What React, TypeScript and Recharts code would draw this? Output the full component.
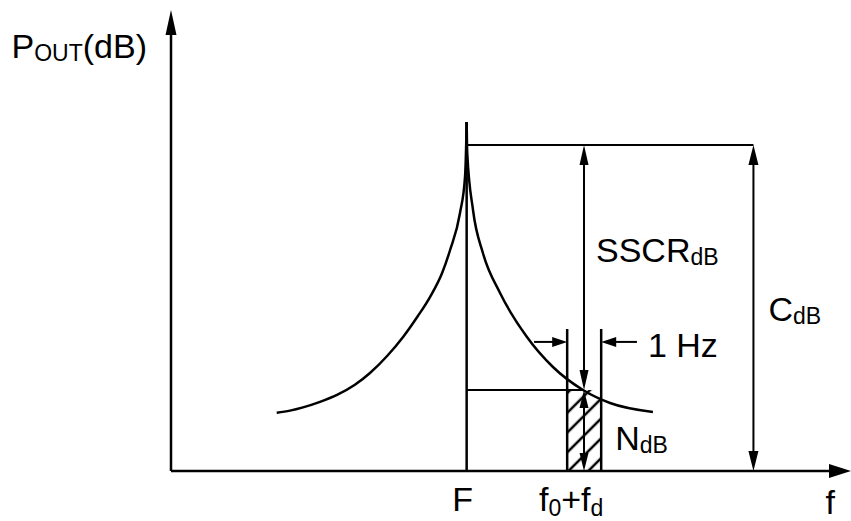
import React from "react";
import {
    ComposedChart,
    Line,
    XAxis,
    YAxis,
    ReferenceLine,
    ReferenceArea,
    ReferenceDot,
} from "recharts";

// spectrum skirt either side of the carrier (f in arbitrary units, P in dB)
const leftFreq = [
    3.575, 4.025, 4.465, 5.04, 5.615, 6.22, 6.73, 7.31, 7.85, 8.35, 8.76, 9.17, 9.44, 9.775, 9.944, 9.985, 10,
];
const leftPower = [
    12.65, 13.1, 13.8, 15.0, 16.5, 18.7, 21.26, 24.95, 29.07, 33.62, 37.74, 42.95, 47.94, 55.97, 63.77, 71.15, 75.7,
];
const rightFreq = [10, 10.02, 10.215, 10.55, 11.13, 12.04, 12.92, 13.935, 14.85, 16.3];
const rightPower = [75.7, 68.98, 56.62, 47.29, 38.61, 29.07, 22.56, 17.57, 14.75, 12.8];

const F = 10;
const bandLo = 13.4;
const bandHi = 14.55;
const bandMid = 13.97;
const carrierDb = 70.7;
const noiseDb = 17.57;
const bandTop = 30.8;
const dimY = 28;
const dimLeftStart = 12.28;
const dimRightStart = 15.76;
const cArrowX = 19.7;
const xMax = 23;
const yMax = 100;
const xTicks = [F, bandMid];

const leftData = leftFreq.map((f, i) => ({ f, p: leftPower[i] }));
const rightData = rightFreq.map((f, i) => ({ f, p: rightPower[i] }));

const FONT = "'Liberation Sans', Arial, sans-serif";
const MAIN = 34;
const SUB = 23;

type Head = "none" | "end" | "both";

function arrowShape(head: Head, len = 18, wid = 9, sw = 2) {
    return (p: any) => {
        const { x1, y1, x2, y2 } = p;
        const dx = x2 - x1;
        const dy = y2 - y1;
        const L = Math.hypot(dx, dy) || 1;
        const ux = dx / L;
        const uy = dy / L;
        const nx = -uy;
        const ny = ux;
        const tri = (tx: number, ty: number, sx: number, sy: number) =>
            `${tx},${ty} ${tx - sx * len + (nx * wid) / 2},${ty - sy * len + (ny * wid) / 2} ${
                tx - sx * len - (nx * wid) / 2
            },${ty - sy * len - (ny * wid) / 2}`;
        const s0 = head === "both" ? len * 0.6 : 0;
        const s1 = head !== "none" ? len * 0.6 : 0;
        return (
            <g>
                <line
                    x1={x1 + ux * s0}
                    y1={y1 + uy * s0}
                    x2={x2 - ux * s1}
                    y2={y2 - uy * s1}
                    stroke="#000"
                    strokeWidth={sw}
                />
                {head === "both" && <polygon points={tri(x1, y1, -ux, -uy)} fill="#000" />}
                {head !== "none" && <polygon points={tri(x2, y2, ux, uy)} fill="#000" />}
            </g>
        );
    };
}

// text with an optional subscript, baseline at (cx, cy)
function label(main: string, sub?: string, after?: string, anchor: "start" | "end" | "middle" = "start", dx = 0) {
    return (p: any) => (
        <text
            x={p.cx + dx}
            y={p.cy}
            textAnchor={anchor}
            fontFamily={FONT}
            fontSize={MAIN}
            fill="#000"
        >
            <tspan>{main}</tspan>
            {sub && (
                <tspan fontSize={SUB} dy={3}>
                    {sub}
                </tspan>
            )}
            {after && <tspan dy={-3}>{after}</tspan>}
        </text>
    );
}

function FreqTick(props: any) {
    const { x, y, payload } = props;
    if (payload.value === F) {
        return (
            <text x={x - 4} y={y + 40} textAnchor="middle" fontFamily={FONT} fontSize={MAIN} fill="#000">
                F
            </text>
        );
    }
    return (
        <text x={x - 45} y={y + 40} textAnchor="start" fontFamily={FONT} fontSize={MAIN} fill="#000">
            <tspan>f</tspan>
            <tspan fontSize={SUB} dy={5}>0</tspan>
            <tspan dy={-5}>+f</tspan>
            <tspan fontSize={SUB} dy={5}>d</tspan>
        </text>
    );
}

export default function App() {
    return (
        <div style={{ position: "absolute", left: 0, top: 0, width: 851, height: 521, background: "#fff" }}>
            <ComposedChart
                width={851}
                height={521}
                margin={{ top: 10, right: 0, bottom: 20, left: 171 }}
            >
                <defs>
                    <pattern
                        id="hatch"
                        width="14"
                        height="14"
                        patternUnits="userSpaceOnUse"
                        patternTransform="rotate(45)"
                    >
                        <line x1="7" y1="0" x2="7" y2="14" stroke="#000" strokeWidth="2.5" />
                    </pattern>
                </defs>
                <XAxis
                    dataKey="f"
                    type="number"
                    domain={[0, xMax]}
                    allowDataOverflow
                    ticks={xTicks}
                    tick={<FreqTick />}
                    axisLine={false}
                    tickLine={false}
                    tickSize={0}
                    tickMargin={0}
                    height={30}
                    interval={0}
                />
                <YAxis type="number" domain={[0, yMax]} allowDataOverflow hide />

                <ReferenceArea
                    x1={bandLo}
                    x2={bandHi}
                    y1={0}
                    y2={noiseDb}
                    fill="url(#hatch)"
                    fillOpacity={1}
                    stroke="none"
                    ifOverflow="visible"
                />

                {/* axes */}
                <ReferenceLine
                    segment={[{ x: 0, y: 0 }, { x: 0, y: yMax }]}
                    shape={arrowShape("end", 25, 11, 2.5)}
                    ifOverflow="visible"
                />
                <ReferenceLine
                    segment={[{ x: 0, y: 0 }, { x: xMax, y: 0 }]}
                    shape={arrowShape("end", 22, 14, 2.5)}
                    ifOverflow="visible"
                />

                {/* carrier and levels */}
                <ReferenceLine
                    segment={[{ x: F, y: 0 }, { x: F, y: leftPower[leftPower.length - 1] }]}
                    shape={arrowShape("none", 0, 0, 2.5)}
                    ifOverflow="visible"
                />
                <ReferenceLine
                    segment={[{ x: F, y: carrierDb }, { x: cArrowX, y: carrierDb }]}
                    shape={arrowShape("none", 0, 0, 2)}
                    ifOverflow="visible"
                />
                <ReferenceLine
                    segment={[{ x: F, y: noiseDb }, { x: bandMid, y: noiseDb }]}
                    shape={arrowShape("none", 0, 0, 2)}
                    ifOverflow="visible"
                />
                <ReferenceLine
                    segment={[{ x: bandMid, y: noiseDb }, { x: bandMid, y: carrierDb }]}
                    shape={arrowShape("both", 20, 9, 2)}
                    ifOverflow="visible"
                />
                <ReferenceLine
                    segment={[{ x: bandMid, y: 0 }, { x: bandMid, y: noiseDb }]}
                    shape={arrowShape("both", 18, 9, 2)}
                    ifOverflow="visible"
                />
                <ReferenceLine
                    segment={[{ x: cArrowX, y: 0 }, { x: cArrowX, y: carrierDb }]}
                    shape={arrowShape("both", 20, 10, 2)}
                    ifOverflow="visible"
                />

                {/* 1 Hz band */}
                <ReferenceLine
                    segment={[{ x: bandLo, y: 0 }, { x: bandLo, y: bandTop }]}
                    shape={arrowShape("none", 0, 0, 2.5)}
                    ifOverflow="visible"
                />
                <ReferenceLine
                    segment={[{ x: bandHi, y: 0 }, { x: bandHi, y: bandTop }]}
                    shape={arrowShape("none", 0, 0, 2.5)}
                    ifOverflow="visible"
                />
                <ReferenceLine
                    segment={[{ x: dimLeftStart, y: dimY }, { x: bandLo, y: dimY }]}
                    shape={arrowShape("end", 15, 10, 2)}
                    ifOverflow="visible"
                />
                <ReferenceLine
                    segment={[{ x: dimRightStart, y: dimY }, { x: bandHi, y: dimY }]}
                    shape={arrowShape("end", 15, 10, 2)}
                    ifOverflow="visible"
                />

                <Line
                    data={leftData}
                    dataKey="p"
                    type="monotone"
                    stroke="#000"
                    strokeWidth={2.5}
                    dot={false}
                    activeDot={false}
                    isAnimationActive={false}
                />
                <Line
                    data={rightData}
                    dataKey="p"
                    type="monotone"
                    stroke="#000"
                    strokeWidth={2.5}
                    dot={false}
                    activeDot={false}
                    isAnimationActive={false}
                />

                {/* annotations */}
                <ReferenceDot x={0} y={89.6} r={0} ifOverflow="visible" shape={label("P", "OUT", "(dB)", "end", -24)} />
                <ReferenceDot x={bandMid} y={45.3} r={0} ifOverflow="visible" shape={label("SSCR", "dB", undefined, "start", 12)} />
                <ReferenceDot x={cArrowX} y={32.5} r={0} ifOverflow="visible" shape={label("C", "dB", undefined, "start", 15)} />
                <ReferenceDot x={bandHi} y={4.56} r={0} ifOverflow="visible" shape={label("N", "dB", undefined, "start", 14)} />
                <ReferenceDot x={dimRightStart} y={24.7} r={0} ifOverflow="visible" shape={label("1 Hz", undefined, undefined, "start", 11)} />
                <ReferenceDot x={22.3} y={-9.33} r={0} ifOverflow="visible" shape={label("f", undefined, undefined, "middle")} />
            </ComposedChart>
        </div>
    );
}
